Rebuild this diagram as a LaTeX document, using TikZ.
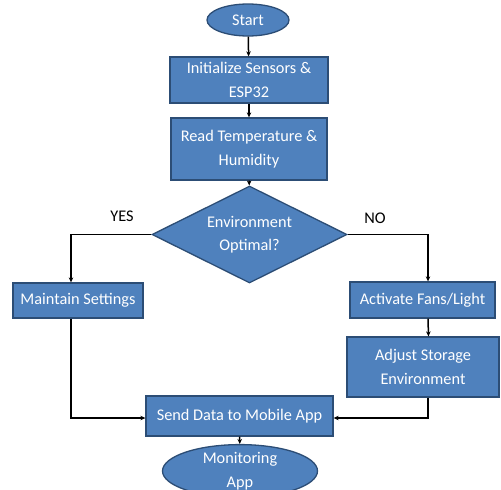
\documentclass[tikz,border=0pt]{standalone}
\usepackage{fontspec}
\setmainfont{Carlito}
\usetikzlibrary{shapes.geometric,arrows.meta}
\definecolor{boxfill}{HTML}{4F81BD}
\definecolor{boxline}{HTML}{2C4D75}
\begin{document}
\begin{tikzpicture}[x=1pt,y=-1pt,
  txt/.style={font=\fontsize{16.3}{23.5}\selectfont},
  shp/.style={txt,draw=boxline,fill=boxfill,line width=1.3pt,text=white,align=center,inner sep=0pt},
  box/.style={shp,rectangle},
  oval/.style={shp,ellipse},
  dec/.style={shp,diamond,shape aspect=2},
  arr/.style={draw=black,line width=1.5pt,-{Stealth[length=5pt,width=4.5pt]}},
  lbl/.style={txt,text=black}]
\useasboundingbox (0,0) rectangle (501,490);
\node[oval,minimum width=82pt,minimum height=32pt] (start) at (248,20) {Start};
\node[box,minimum width=158pt,minimum height=46pt] (init) at (249,80) {Initialize Sensors \&\\ESP32};
\node[box,minimum width=156pt,minimum height=62pt] (read) at (249,149) {Read Temperature \&\\Humidity};
\node[dec,minimum width=195pt,minimum height=97pt] (env) at (249.5,234.5) {Environment\\Optimal?};
\node[box,minimum width=130pt,minimum height=35pt] (maint) at (78,300.5) {Maintain Settings};
\node[box,minimum width=145pt,minimum height=36pt] (act) at (422.5,300) {Activate Fans/Light};
\node[box,minimum width=152pt,minimum height=60pt] (adj) at (423,367) {Adjust Storage\\Environment};
\node[box,minimum width=187pt,minimum height=40pt] (send) at (239.5,416) {Send Data to Mobile App};
\node[oval,minimum width=155pt,minimum height=48pt] (mon) at (240,471) {Monitoring\\App};
\node[lbl] (yes) at (122,216) {YES};
\node[lbl] (no) at (375,218) {NO};
\draw[arr] (start) -- (init);
\draw[arr] (init) -- (read);
\draw[arr] (read) -- (env);
\draw[arr] (env.west) -| ([xshift=-7pt]maint.north);
\draw[arr] (env.east) -| ([xshift=5.5pt]act.north);
\draw[arr] ([xshift=5.5pt]act.south) -- ([xshift=5.5pt]adj.north);
\draw[arr] ([xshift=-7pt]maint.south) |- ([yshift=-2pt]send.west);
\draw[arr] ([xshift=5pt]adj.south) |- ([yshift=-2pt]send.east);
\draw[arr] (send) -- (mon);
\end{tikzpicture}
\end{document}
